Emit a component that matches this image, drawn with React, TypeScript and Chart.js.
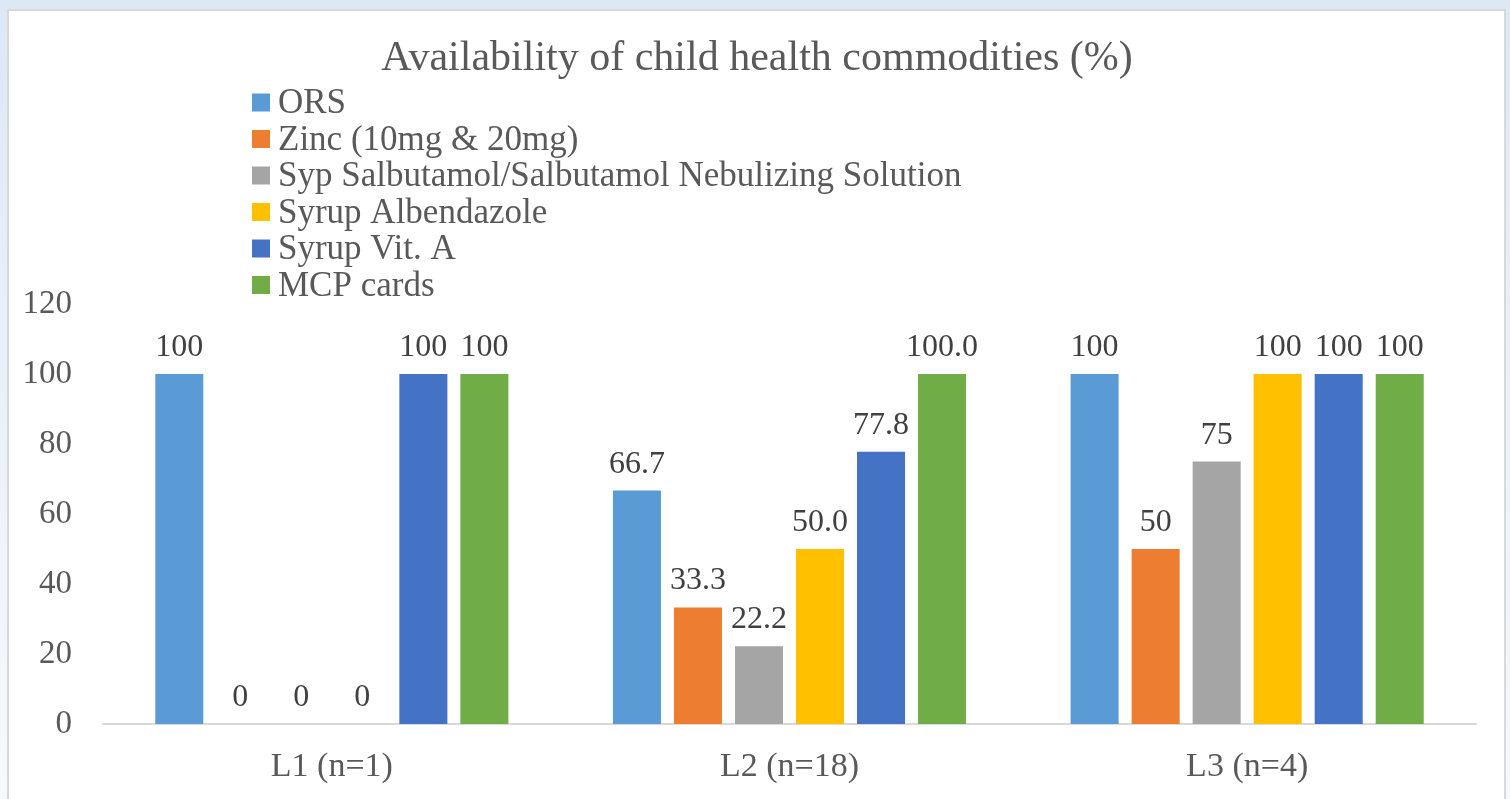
import React, { useEffect, useRef } from "react";
import { Chart, registerables } from "chart.js";

Chart.register(...registerables);

const title = "Availability of child health commodities (%)";
const categories = ["L1 (n=1)", "L2 (n=18)", "L3 (n=4)"];
const seriesNames = [
  "ORS",
  "Zinc (10mg & 20mg)",
  "Syp Salbutamol/Salbutamol Nebulizing Solution",
  "Syrup Albendazole",
  "Syrup Vit. A",
  "MCP cards",
];
const orsValues = [100, 66.7, 100];
const zincValues = [0, 33.3, 50];
const salbutamolValues = [0, 22.2, 75];
const albendazoleValues = [0, 50.0, 100];
const vitAValues = [100, 77.8, 100];
const mcpValues = [100, 100.0, 100];
const orsLabels = ["100", "66.7", "100"];
const zincLabels = ["0", "33.3", "50"];
const salbutamolLabels = ["0", "22.2", "75"];
const albendazoleLabels = ["0", "50.0", "100"];
const vitALabels = ["100", "77.8", "100"];
const mcpLabels = ["100", "100.0", "100"];
const seriesColors = ["#5B9BD5", "#ED7D31", "#A5A5A5", "#FFC000", "#4472C4", "#70AD47"];
const yTicks = [0, 20, 40, 60, 80, 100, 120];

const FONT = '"Liberation Serif", "Times New Roman", serif';

const titlePlugin = {
  id: "customTitle",
  afterDraw(chart: any) {
    const ctx = chart.ctx;
    ctx.save();
    ctx.font = `42px ${FONT}`;
    ctx.fillStyle = "#595959";
    ctx.textAlign = "center";
    ctx.textBaseline = "alphabetic";
    ctx.fillText(title, 757, 70);
    ctx.restore();
  },
};

const legendPlugin = {
  id: "vertLegend",
  afterDraw(chart: any) {
    const ctx = chart.ctx;
    ctx.save();
    ctx.font = `35px ${FONT}`;
    ctx.textBaseline = "alphabetic";
    ctx.textAlign = "left";
    chart.data.datasets.forEach((ds: any, i: number) => {
      const cy = 102.5 + i * 36.5;
      ctx.fillStyle = ds.backgroundColor;
      ctx.fillRect(252, cy - 9, 18, 18);
      ctx.fillStyle = "#595959";
      ctx.fillText(ds.label, 278, cy + 10.5);
    });
    ctx.restore();
  },
};

const dataLabelPlugin = {
  id: "barValues",
  afterDatasetsDraw(chart: any) {
    const ctx = chart.ctx;
    ctx.save();
    ctx.font = `32px ${FONT}`;
    ctx.fillStyle = "#404040";
    ctx.textAlign = "center";
    ctx.textBaseline = "alphabetic";
    chart.data.datasets.forEach((ds: any, i: number) => {
      const meta = chart.getDatasetMeta(i);
      meta.data.forEach((bar: any, j: number) => {
        ctx.fillText(ds.valueLabels[j], bar.x, bar.y - 18);
      });
    });
    ctx.restore();
  },
};

export default function App() {
  const ref = useRef<HTMLCanvasElement>(null);
  useEffect(() => {
    if (!ref.current) return;
    const values = [orsValues, zincValues, salbutamolValues, albendazoleValues, vitAValues, mcpValues];
    const labels = [orsLabels, zincLabels, salbutamolLabels, albendazoleLabels, vitALabels, mcpLabels];
    const chart = new Chart(ref.current, {
      type: "bar",
      data: {
        labels: categories,
        datasets: seriesNames.map((name, i) => ({
          label: name,
          data: values[i],
          valueLabels: labels[i],
          backgroundColor: seriesColors[i],
          borderWidth: 0,
          categoryPercentage: 0.8,
          barPercentage: 0.787,
        })) as any,
      },
      options: {
        responsive: false,
        animation: false,
        devicePixelRatio: 1,
        layout: { padding: { left: 0, right: 34, top: 304, bottom: 0 } },
        plugins: {
          legend: { display: false },
          tooltip: { enabled: false },
          title: { display: false },
        },
        scales: {
          x: {
            grid: { display: false, drawTicks: false },
            border: { display: true, color: "#D9D9D9", width: 2 },
            ticks: { color: "#595959", font: { family: FONT, size: 34 }, padding: 23 },
            afterFit: (s: any) => { s.height = 75; },
          },
          y: {
            min: 0,
            max: 120,
            afterBuildTicks: (s: any) => { s.ticks = yTicks.map((v) => ({ value: v })); },
            grid: { display: false, drawTicks: false },
            border: { display: false },
            ticks: { color: "#595959", font: { family: FONT, size: 33 }, padding: 31 },
            afterFit: (s: any) => { s.width = 103; },
          },
        },
      },
      plugins: [titlePlugin, legendPlugin, dataLabelPlugin],
    });
    return () => chart.destroy();
  }, []);

  return (
    <div style={{ position: "fixed", inset: 0, background: "linear-gradient(180deg, #DDE8F5 0%, #EEF3FA 60%, #F6F9FD 100%)", overflow: "hidden" }}>
      <div style={{ position: "absolute", left: 7, top: 9, width: 1499, height: 800, border: "2px solid #D9D9D9", boxSizing: "border-box", background: "#FFFFFF" }} />
      <canvas ref={ref} width={1510} height={799} style={{ position: "absolute", left: 0, top: 0, width: 1510, height: 799 }} />
    </div>
  );
}
